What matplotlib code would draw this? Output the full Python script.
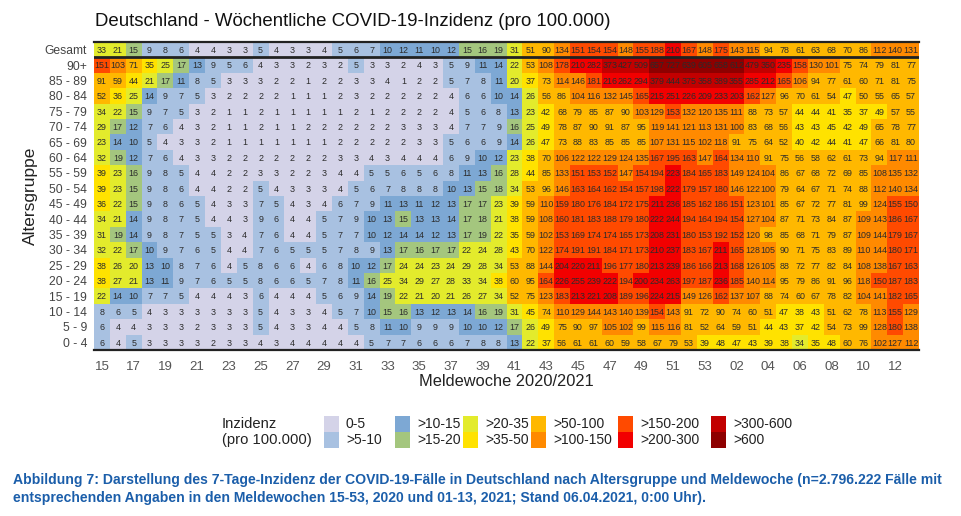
import matplotlib
matplotlib.use("Agg")
import matplotlib.pyplot as plt
from matplotlib.colors import ListedColormap, BoundaryNorm
from matplotlib.patches import Rectangle
from matplotlib import font_manager
import numpy as np

# Daten
wochen = [str(w) for w in range(15, 54)] + ["%02d" % w for w in range(1, 14)]
altersgruppen = ["Gesamt", "90+", "85 - 89", "80 - 84", "75 - 79", "70 - 74", "65 - 69",
                 "60 - 64", "55 - 59", "50 - 54", "45 - 49", "40 - 44", "35 - 39", "30 - 34",
                 "25 - 29", "20 - 24", "15 - 19", "10 - 14", "5 - 9", "0 - 4"]

gesamt = [33, 21, 15, 9, 8, 6, 4, 4, 3, 3, 5, 4, 3, 3, 4, 5, 6, 7, 10, 12, 11, 10, 12, 15, 16, 19,
          31, 51, 90, 134, 151, 154, 154, 148, 155, 188, 210, 167, 148, 175, 143, 115, 94, 78, 61, 63, 68, 70, 86, 112, 140, 131]
a90 = [151, 103, 71, 35, 25, 17, 13, 9, 5, 6, 4, 3, 3, 2, 3, 2, 5, 3, 3, 2, 4, 3, 5, 9, 11, 14,
       22, 53, 108, 178, 210, 282, 373, 427, 509, 657, 727, 639, 605, 658, 612, 479, 350, 235, 158, 130, 101, 75, 74, 79, 81, 77]
a85 = [91, 59, 44, 21, 17, 11, 8, 5, 3, 3, 3, 2, 2, 1, 2, 2, 3, 3, 4, 1, 2, 2, 5, 7, 8, 11,
       20, 37, 73, 114, 146, 181, 216, 262, 294, 379, 444, 375, 358, 389, 355, 285, 212, 165, 106, 94, 77, 61, 60, 71, 81, 75]
a80 = [52, 36, 25, 14, 9, 7, 5, 3, 2, 2, 2, 2, 1, 1, 1, 2, 3, 2, 2, 2, 2, 2, 4, 6, 6, 10,
       14, 26, 56, 86, 104, 116, 132, 145, 165, 215, 251, 226, 209, 233, 203, 162, 127, 96, 70, 61, 54, 47, 50, 55, 65, 57]
a75 = [34, 22, 15, 9, 7, 5, 3, 2, 1, 1, 2, 1, 1, 1, 1, 1, 2, 1, 2, 2, 2, 2, 4, 5, 6, 8,
       13, 23, 42, 68, 79, 85, 87, 90, 103, 129, 153, 132, 120, 135, 111, 88, 73, 57, 44, 44, 41, 35, 37, 49, 57, 55]
a70 = [29, 17, 12, 7, 6, 4, 3, 2, 1, 1, 2, 1, 1, 2, 2, 2, 2, 2, 2, 3, 3, 3, 4, 7, 7, 9,
       16, 25, 49, 78, 87, 90, 91, 87, 95, 119, 141, 121, 113, 131, 100, 83, 68, 56, 43, 43, 45, 42, 49, 65, 78, 77]
a65 = [23, 14, 10, 5, 4, 3, 3, 2, 1, 1, 1, 1, 1, 1, 1, 2, 2, 2, 2, 2, 3, 3, 5, 6, 6, 9,
       14, 26, 47, 73, 88, 83, 85, 85, 85, 107, 131, 115, 102, 118, 91, 75, 64, 52, 40, 42, 44, 41, 47, 66, 81, 80]
a60 = [32, 19, 12, 7, 6, 4, 3, 3, 2, 2, 2, 2, 2, 2, 2, 3, 3, 4, 3, 4, 4, 4, 6, 9, 10, 12,
       23, 38, 70, 106, 122, 122, 129, 124, 135, 167, 195, 163, 147, 164, 134, 110, 91, 75, 56, 58, 62, 61, 73, 94, 117, 111]
a55 = [39, 23, 16, 9, 8, 5, 4, 4, 2, 2, 3, 3, 2, 2, 3, 4, 4, 5, 5, 6, 5, 6, 8, 11, 13, 16,
       28, 44, 85, 133, 151, 153, 152, 147, 154, 194, 223, 184, 165, 183, 149, 124, 104, 86, 67, 68, 72, 69, 85, 108, 135, 132]
a50 = [39, 23, 15, 9, 8, 6, 4, 4, 2, 2, 5, 4, 3, 3, 3, 4, 5, 6, 7, 8, 8, 8, 10, 13, 15, 18,
       34, 53, 96, 146, 163, 164, 162, 154, 157, 198, 222, 179, 157, 180, 146, 122, 100, 79, 64, 67, 71, 74, 88, 112, 140, 134]
a45 = [36, 22, 15, 9, 8, 6, 5, 4, 3, 3, 7, 5, 4, 3, 4, 6, 7, 9, 11, 13, 11, 12, 13, 17, 17, 23,
       39, 59, 110, 159, 180, 176, 184, 172, 175, 211, 236, 185, 162, 186, 151, 123, 101, 85, 67, 72, 77, 81, 99, 124, 155, 150]
a40 = [34, 21, 14, 9, 8, 7, 5, 4, 4, 3, 9, 6, 4, 4, 5, 7, 9, 10, 13, 15, 13, 13, 14, 17, 18, 21,
       38, 59, 108, 160, 181, 183, 188, 179, 180, 222, 244, 194, 164, 194, 154, 127, 104, 87, 71, 73, 84, 87, 109, 143, 186, 167]
a35 = [31, 19, 14, 9, 8, 7, 5, 5, 3, 4, 7, 6, 4, 4, 5, 7, 7, 10, 12, 14, 14, 12, 13, 17, 19, 22,
       35, 59, 102, 153, 169, 174, 174, 165, 173, 208, 231, 180, 153, 192, 152, 120, 98, 85, 68, 71, 79, 87, 109, 144, 179, 167]
a30 = [32, 22, 17, 10, 9, 7, 6, 5, 4, 4, 7, 6, 5, 5, 5, 7, 8, 9, 13, 17, 16, 17, 17, 22, 24, 28,
       43, 70, 122, 174, 191, 191, 184, 171, 173, 210, 237, 183, 167, 211, 165, 128, 105, 90, 71, 75, 83, 89, 110, 144, 180, 171]
a25 = [38, 26, 20, 13, 10, 8, 7, 6, 4, 5, 8, 6, 6, 4, 6, 8, 10, 12, 17, 24, 24, 23, 24, 29, 28, 34,
       53, 88, 144, 204, 220, 211, 196, 177, 180, 213, 239, 186, 166, 213, 168, 126, 105, 88, 72, 77, 82, 84, 108, 138, 167, 163]
a20 = [38, 27, 21, 13, 11, 9, 7, 6, 5, 5, 8, 6, 6, 5, 7, 8, 11, 16, 25, 34, 29, 27, 28, 33, 34, 38,
       60, 95, 164, 226, 255, 239, 222, 194, 200, 234, 263, 197, 187, 236, 185, 140, 114, 95, 79, 86, 91, 96, 118, 150, 187, 183]
a15 = [22, 14, 10, 7, 7, 5, 4, 4, 4, 3, 6, 4, 4, 4, 5, 6, 9, 14, 19, 22, 21, 20, 21, 26, 27, 34,
       52, 75, 123, 183, 213, 221, 208, 189, 196, 224, 215, 149, 126, 162, 137, 107, 88, 74, 60, 67, 78, 82, 104, 141, 182, 165]
a10 = [8, 6, 5, 4, 3, 3, 3, 3, 3, 3, 5, 4, 3, 3, 4, 5, 7, 10, 15, 16, 13, 12, 13, 14, 16, 19,
       31, 45, 74, 110, 129, 144, 143, 140, 139, 154, 143, 91, 72, 90, 74, 60, 51, 47, 38, 43, 51, 62, 78, 113, 155, 129]
a5 = [6, 4, 4, 3, 3, 3, 2, 3, 3, 3, 5, 4, 3, 3, 4, 4, 5, 8, 11, 10, 9, 9, 9, 10, 10, 12,
      17, 26, 49, 75, 90, 97, 105, 102, 99, 115, 116, 81, 52, 64, 59, 51, 44, 43, 37, 42, 54, 73, 99, 128, 180, 138]
a0 = [6, 4, 5, 3, 3, 3, 3, 2, 3, 3, 4, 3, 4, 4, 4, 4, 4, 5, 7, 7, 6, 6, 6, 7, 8, 8,
      13, 22, 37, 56, 61, 61, 60, 59, 58, 67, 79, 53, 39, 48, 47, 43, 39, 38, 34, 35, 48, 60, 76, 102, 127, 112]

klassen = ["0-5", ">5-10", ">10-15", ">15-20", ">20-35", ">35-50",
           ">50-100", ">100-150", ">150-200", ">200-300", ">300-600", ">600"]
grenzen = [0, 5, 10, 15, 20, 35, 50, 100, 150, 200, 300, 600, 100000]
farben = ["#D4D3E8", "#A8C1E1", "#7DA8D4", "#A4C67E", "#E3EB2C", "#FFE200",
          "#FFB800", "#FF8A00", "#FF4A00", "#F20000", "#C20000", "#8E0000"]

daten = np.array([gesamt, a90, a85, a80, a75, a70, a65, a60, a55, a50,
                  a45, a40, a35, a30, a25, a20, a15, a10, a5, a0])

# Schrift
verfuegbar = {f.name for f in font_manager.fontManager.ttflist}
schmal = "Liberation Sans Narrow" if "Liberation Sans Narrow" in verfuegbar else "Liberation Sans"
plt.rcParams["font.family"] = ["Liberation Sans", "DejaVu Sans"]

W, H = 961, 516
fig = plt.figure(figsize=(W / 100, H / 100), dpi=100)

def fx(px):
    return px / W

def fy(py):
    return 1 - py / H

ax = fig.add_axes([fx(94), fy(350), fx(919) - fx(94), fy(42) - fy(350)])

cmap = ListedColormap(farben)
norm = BoundaryNorm(grenzen, cmap.N)
ax.pcolormesh(np.arange(daten.shape[1] + 1), np.arange(daten.shape[0] + 1), daten,
              cmap=cmap, norm=norm, shading="flat")
ax.set_xlim(0, daten.shape[1])
ax.set_ylim(daten.shape[0], 0)

for i in range(daten.shape[0]):
    for j in range(daten.shape[1]):
        ax.text(j + 0.5, i + 0.55, str(daten[i, j]), ha="center", va="center",
                fontsize=6.4, color="#2b2b2b", family=schmal)

# Trennlinie unter "Gesamt"
ax.axhline(1, color="#222222", lw=2)
for s in ["left", "right"]:
    ax.spines[s].set_visible(False)
for s in ["top", "bottom"]:
    ax.spines[s].set_color("#222222")
    ax.spines[s].set_linewidth(1.6)

ax.set_xticks(np.arange(0, len(wochen), 2) + 0.5)
ax.set_xticklabels(wochen[::2], fontsize=9.5, color="#555555", family=schmal)
ax.set_yticks(np.arange(len(altersgruppen)) + 0.5)
ax.set_yticklabels(altersgruppen, fontsize=8.7, color="#444444")
ax.tick_params(length=0, pad=5)
ax.tick_params(axis="x", pad=8)

ax.set_xlabel("Meldewoche 2020/2021", fontsize=11.8, color="#222222", labelpad=1)
ax.set_ylabel("Altersgruppe", fontsize=12.5, color="#222222", labelpad=5)

fig.text(fx(95), fy(22), "Deutschland - Wöchentliche COVID-19-Inzidenz (pro 100.000)",
         fontsize=13.4, va="center", ha="left", color="#111111")

# Legende
fig.text(fx(222), fy(424), "Inzidenz", fontsize=10.6, va="center", color="#222222")
fig.text(fx(222), fy(440), "(pro 100.000)", fontsize=10.6, va="center", color="#222222")
spalten_x = [324, 395, 463, 531, 618, 711]
for k, (name, farbe) in enumerate(zip(klassen, farben)):
    sx = spalten_x[k // 2]
    sy = 416 + (k % 2) * 16
    fig.patches.append(Rectangle((fx(sx), fy(sy + 16)), fx(15), 16 / H,
                                 transform=fig.transFigure, facecolor=farbe,
                                 edgecolor="none"))
    fig.text(fx(sx + 22), fy(sy + 8), name, fontsize=10, va="center", color="#222222")

# Bildunterschrift
blau = "#1B5EAA"
fig.text(fx(13), fy(480), "Abbildung 7: Darstellung des 7-Tage-Inzidenz der COVID-19-Fälle in Deutschland "
         "nach Altersgruppe und Meldewoche (n=2.796.222 Fälle mit",
         fontsize=10.1, fontweight="bold", color=blau, va="center", family=schmal)
fig.text(fx(13), fy(498), "entsprechenden Angaben in den Meldewochen 15-53, 2020 und 01-13, 2021; "
         "Stand 06.04.2021, 0:00 Uhr).",
         fontsize=10.1, fontweight="bold", color=blau, va="center", family=schmal)

fig.savefig("out.png", dpi=100)
